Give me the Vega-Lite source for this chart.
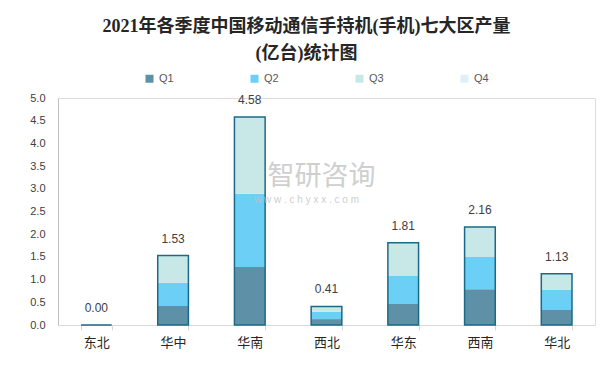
{
  "$schema": "https://vega.github.io/schema/vega-lite/v6.json",
  "autosize": "none",
  "width": 537,
  "height": 227,
  "padding": {"left": 58, "top": 98, "right": 18, "bottom": 44},
  "background": "white",
  "config": {"axis": {"labelOverlap": false}},
  "title": {
    "text": ["2021年各季度中国移动通信手持机(手机)七大区产量", "(亿台)统计图"],
    "font": "Liberation Serif, Noto Sans CJK SC",
    "fontSize": 18,
    "fontWeight": "bold",
    "color": "#262626",
    "anchor": "middle",
    "dx": -20,
    "offset": 10,
    "lineHeight": 27
  },
  "data": {
    "values": [
      {"region": "东北", "quarter": "Q1", "value": 0},
      {"region": "东北", "quarter": "Q2", "value": 0},
      {"region": "东北", "quarter": "Q3", "value": 0},
      {"region": "东北", "quarter": "Q4", "value": 0},
      {"region": "华中", "quarter": "Q1", "value": 0.42},
      {"region": "华中", "quarter": "Q2", "value": 0.51},
      {"region": "华中", "quarter": "Q3", "value": 0.60},
      {"region": "华中", "quarter": "Q4", "value": 0},
      {"region": "华南", "quarter": "Q1", "value": 1.28},
      {"region": "华南", "quarter": "Q2", "value": 1.61},
      {"region": "华南", "quarter": "Q3", "value": 1.69},
      {"region": "华南", "quarter": "Q4", "value": 0},
      {"region": "西北", "quarter": "Q1", "value": 0.13},
      {"region": "西北", "quarter": "Q2", "value": 0.16},
      {"region": "西北", "quarter": "Q3", "value": 0.12},
      {"region": "西北", "quarter": "Q4", "value": 0},
      {"region": "华东", "quarter": "Q1", "value": 0.46},
      {"region": "华东", "quarter": "Q2", "value": 0.63},
      {"region": "华东", "quarter": "Q3", "value": 0.72},
      {"region": "华东", "quarter": "Q4", "value": 0},
      {"region": "西南", "quarter": "Q1", "value": 0.79},
      {"region": "西南", "quarter": "Q2", "value": 0.71},
      {"region": "西南", "quarter": "Q3", "value": 0.66},
      {"region": "西南", "quarter": "Q4", "value": 0},
      {"region": "华北", "quarter": "Q1", "value": 0.33},
      {"region": "华北", "quarter": "Q2", "value": 0.45},
      {"region": "华北", "quarter": "Q3", "value": 0.35},
      {"region": "华北", "quarter": "Q4", "value": 0}
    ]
  },
  "encoding": {
    "x": {
      "field": "region",
      "type": "nominal",
      "sort": ["东北", "华中", "华南", "西北", "华东", "西南", "华北"],
      "scale": {"paddingInner": 0.6, "paddingOuter": 0.3},
      "axis": {
        "title": null,
        "labelAngle": 0,
        "labelFont": "Noto Sans CJK SC",
        "labelFontSize": 13,
        "labelColor": "#262626",
        "labelPadding": 6,
        "domainColor": "#D9D9D9",
        "tickColor": "#D9D9D9",
        "tickBand": "extent",
        "tickSize": 5
      }
    },
    "y": {
      "field": "value",
      "type": "quantitative",
      "aggregate": "sum",
      "scale": {"domain": [0, 5]},
      "axis": {
        "title": null,
        "values": [0, 0.5, 1, 1.5, 2, 2.5, 3, 3.5, 4, 4.5, 5],
        "format": ".1f",
        "labelOverlap": false,
        "grid": false,
        "ticks": false,
        "labelPadding": 13,
        "labelFont": "Liberation Sans",
        "labelFontSize": 11,
        "labelColor": "#404040",
        "domainColor": "#BFBFBF"
      }
    }
  },
  "layer": [
    {
      "mark": {"type": "bar"},
      "encoding": {
        "color": {
          "field": "quarter",
          "type": "nominal",
          "scale": {
            "domain": ["Q1", "Q2", "Q3", "Q4"],
            "range": ["#5E91A8", "#6CCFF6", "#C8E8E8", "#DDF1F9"]
          },
          "legend": {
            "title": null,
            "orient": "none",
            "direction": "horizontal",
            "columns": 4,
            "gridAlign": "all",
            "legendX": 86,
            "legendY": -25,
            "symbolType": "square",
            "symbolSize": 64,
            "symbolStrokeWidth": 0,
            "labelFont": "Liberation Sans",
            "labelFontSize": 11,
            "labelColor": "#595959",
            "labelOffset": 4,
            "columnPadding": 75,
            "padding": 0
          }
        },
        "order": {"field": "quarter", "sort": "ascending"}
      }
    },
    {
      "mark": {"type": "bar", "fill": "transparent", "stroke": "#1A6A87", "strokeWidth": 1.5}
    },
    {
      "mark": {"type": "text", "baseline": "bottom", "dy": -10, "font": "Liberation Sans", "fontSize": 12, "color": "#404040"},
      "encoding": {
        "text": {"field": "value", "type": "quantitative", "aggregate": "sum", "format": ".2f"}
      }
    },
    {
      "data": {"values": [{"label": "智研咨询", "region": "西北", "value": 3.27}]},
      "mark": {"type": "text", "font": "Noto Sans CJK SC", "fontSize": 27, "color": "#C4C4C4", "opacity": 0.8, "xOffset": -5},
      "encoding": {
        "text": {"field": "label"}
      }
    },
    {
      "data": {"values": [{"label": "w w w . c h y x x . c o m", "region": "西北", "value": 2.76}]},
      "mark": {"type": "text", "font": "Liberation Sans", "fontSize": 10, "color": "#C4C4C4", "opacity": 0.8, "xOffset": -20},
      "encoding": {
        "text": {"field": "label"}
      }
    }
  ]
}
